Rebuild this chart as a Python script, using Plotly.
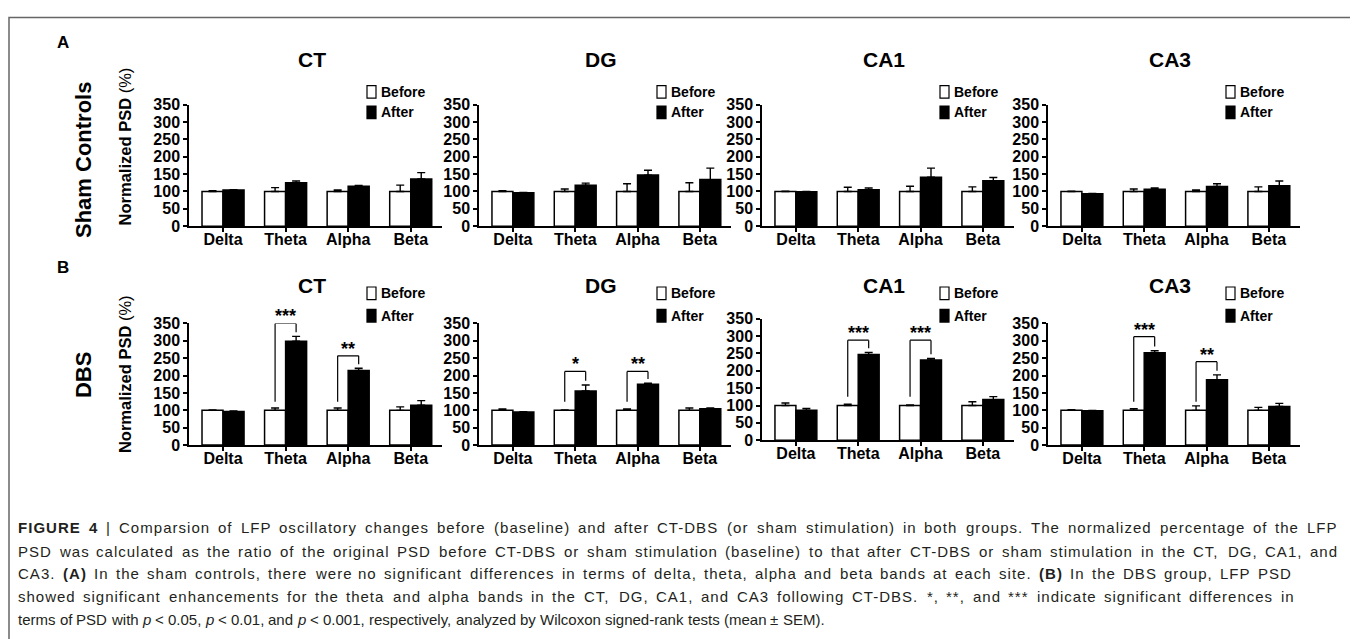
import plotly.graph_objects as go

# ---------------- data ----------------
bands = ["Delta", "Theta", "Alpha", "Beta"]
regions = ["CT", "DG", "CA1", "CA3"]

sham_before = {"CT": [100, 100, 100, 100], "DG": [100, 100, 100, 100],
               "CA1": [100, 100, 100, 100], "CA3": [100, 100, 100, 100]}
sham_before_sem = {"CT": [2, 11, 4, 18], "DG": [2, 7, 22, 25],
                   "CA1": [1, 12, 15, 13], "CA3": [1, 7, 4, 13]}
sham_after = {"CT": [104, 125, 115, 136], "DG": [96, 118, 147, 134],
              "CA1": [99, 105, 141, 131], "CA3": [93, 106, 114, 116]}
sham_after_sem = {"CT": [1, 5, 2, 18], "DG": [1, 6, 14, 33],
                  "CA1": [1, 5, 26, 9], "CA3": [1, 4, 8, 14]}

dbs_before = {"CT": [100, 100, 100, 100], "DG": [100, 100, 100, 100],
              "CA1": [100, 100, 100, 100], "CA3": [100, 100, 100, 100]}
dbs_before_sem = {"CT": [1, 7, 7, 10], "DG": [4, 1, 4, 7],
                  "CA1": [7, 4, 1.5, 11], "CA3": [2, 4.5, 13, 8.5]}
dbs_after = {"CT": [97, 299, 215, 115], "DG": [95, 156, 175, 105],
             "CA1": [86, 247, 231, 117], "CA3": [99, 266, 188, 111]}
dbs_after_sem = {"CT": [1, 14, 6, 13], "DG": [1, 17, 3, 2],
                 "CA1": [5.5, 6, 4.5, 8.5], "CA3": [1, 5.5, 14, 9]}

# significance: (band index, label, bracket height)
dbs_sig = {"CT": [(1, "***", 350), (2, "**", 257)],
           "DG": [(1, "*", 212), (2, "**", 212)],
           "CA1": [(1, "***", 288), (2, "***", 288)],
           "CA3": [(1, "***", 312), (2, "**", 240)]}

caption_lines = [
    "**FIGURE** **4** | Comparsion of LFP oscillatory changes before (baseline) and after CT-DBS (or sham stimulation) in both groups. The normalized percentage of the LFP",
    "PSD was calculated as the ratio of the original PSD before CT-DBS or sham stimulation (baseline) to that after CT-DBS or sham stimulation in the CT, DG, CA1, and",
    "CA3. **(A)** In the sham controls, there were no significant differences in terms of delta, theta, alpha and beta bands at each site. **(B)** In the DBS group, LFP PSD",
    "showed significant enhancements for the theta and alpha bands in the CT, DG, CA1, and CA3 following CT-DBS. *, **, and *** indicate significant differences in",
    "terms of PSD with _p_ < 0.05, _p_ < 0.01, and _p_ < 0.001, respectively, analyzed by Wilcoxon signed-rank tests (mean ± SEM).",
]

# ---------------- layout helpers ----------------
OFF = 8                      # page body margin of the html page
W, H = 1358 - OFF, 639 - OFF  # figure reaches the right / bottom window edge
F = "Liberation Sans, Arial, Helvetica, sans-serif"


def X(px):
    return (px - OFF) / W


def Y(py):
    return 1 - (py - OFF) / H


x_doms = [(189, 442), (479, 731), (762, 1014), (1048, 1300)]
y_doms = [[(224, 99)] * 4, [(449, 324), (449, 324), (444, 319), (449, 324)]]
title_y = [53, 285]
legend_y = [(86, 107), (293, 316)]
HALF = 0.336

# does this plotly accept a negative tick-label standoff?
try:
    go.layout.XAxis(ticklabelstandoff=-6)
    XSTAND = {"ticklabelstandoff": -6}
except Exception:
    XSTAND = {}

fig = go.Figure()
layout = dict(width=W, height=H, margin=dict(l=0, r=0, t=0, b=0),
              paper_bgcolor="white", plot_bgcolor="white", barmode="overlay",
              showlegend=False, font=dict(family=F, color="black"))
annotations = []
shapes = []

groups = [(sham_before, sham_before_sem, sham_after, sham_after_sem, None),
          (dbs_before, dbs_before_sem, dbs_after, dbs_after_sem, dbs_sig)]

for r, (bm, bs, am, asem, sig) in enumerate(groups):
    for c, reg in enumerate(regions):
        n = r * 4 + c + 1
        sfx = "" if n == 1 else str(n)
        xa, ya = "x" + sfx, "y" + sfx
        pos = list(range(len(bands)))
        fig.add_bar(x=pos, y=bm[reg], xaxis=xa, yaxis=ya, offset=-HALF, width=HALF,
                    name="Before",
                    marker=dict(color="white", line=dict(color="black", width=1.5)),
                    error_y=dict(type="data", array=bs[reg], arrayminus=[0] * 4,
                                 symmetric=False, color="black", thickness=1.4, width=4))
        fig.add_bar(x=pos, y=am[reg], xaxis=xa, yaxis=ya, offset=0, width=HALF,
                    name="After",
                    marker=dict(color="black", line=dict(color="black", width=1.5)),
                    error_y=dict(type="data", array=asem[reg], arrayminus=[0] * 4,
                                 symmetric=False, color="black", thickness=1.4, width=4))
        x0, x1 = x_doms[c]
        yb, yt = y_doms[r][c]
        xax = dict(
            domain=[X(x0), X(x1)], anchor=ya, range=[-0.544, 3.5],
            tickvals=pos, ticktext=bands, showline=True, linecolor="black", linewidth=1.5,
            ticks="outside", ticklen=4, tickwidth=1.5, tickcolor="black",
            tickfont=dict(family=F, size=16, color="black", weight="bold"),
            showgrid=False, zeroline=False, fixedrange=True)
        xax.update(XSTAND)
        layout["xaxis" + sfx] = xax
        layout["yaxis" + sfx] = dict(
            domain=[Y(yb), Y(yt)], anchor=xa, range=[0, 350], tick0=0, dtick=50,
            showline=True, linecolor="black", linewidth=1.5,
            ticks="outside", ticklen=4, tickwidth=1.5, tickcolor="black",
            tickfont=dict(family=F, size=16, color="black", weight="bold"),
            showgrid=False, zeroline=False, fixedrange=True)
        # panel title
        annotations.append(dict(text="<b>%s</b>" % reg, x=X((x0 + x1) / 2 - 4), y=Y(title_y[r]),
                                xref="paper", yref="paper", showarrow=False,
                                xanchor="center", yanchor="middle",
                                font=dict(family=F, size=21, color="black")))
        # legend
        for k, (lab, col) in enumerate([("Before", "white"), ("After", "black")]):
            ly = legend_y[r][k]
            shapes.append(dict(type="rect", xref="paper", yref="paper",
                               x0=X(x0 + 178), x1=X(x0 + 187), y0=Y(ly + 6.5), y1=Y(ly - 6.5),
                               fillcolor=col, line=dict(color="black", width=1.2)))
            annotations.append(dict(text="<b>%s</b>" % lab, x=X(x0 + 191), y=Y(ly),
                                    xref="paper", yref="paper", showarrow=False,
                                    xanchor="left", yanchor="middle", borderpad=0,
                                    font=dict(family=F, size=14, color="black")))
        # significance brackets
        if sig:
            for (bi, lab, top) in sig[reg]:
                xl, xr = bi - HALF / 2, bi + HALF / 2
                left_bottom = 125
                right_bottom = am[reg][bi] + asem[reg][bi] + 12
                for (a0, b0, a1, b1) in [(xl, left_bottom, xl, top), (xl, top, xr, top),
                                         (xr, top, xr, right_bottom)]:
                    shapes.append(dict(type="line", xref=xa, yref=ya, x0=a0, y0=b0, x1=a1, y1=b1,
                                       line=dict(color="black", width=1.2)))
                annotations.append(dict(text="<b>%s</b>" % lab, x=bi, y=top, xref=xa, yref=ya,
                                        showarrow=False, xanchor="center", yanchor="bottom",
                                        yshift=-5, font=dict(family=F, size=18, color="black")))

# row / side labels
for t, px, py in [("A", 63, 35), ("B", 63, 266)]:
    annotations.append(dict(text="<b>%s</b>" % t, x=X(px), y=Y(py), xref="paper", yref="paper",
                            showarrow=False, xanchor="center", yanchor="middle",
                            font=dict(family=F, size=17, color="black")))
for t, py in [("Sham Controls", 156), ("DBS", 377)]:
    annotations.append(dict(text="<b>%s</b>" % t, x=X(83), y=Y(py), xref="paper", yref="paper",
                            showarrow=False, textangle=-90, xanchor="center", yanchor="middle",
                            font=dict(family=F, size=22, color="black")))
for py in [142, 376]:
    annotations.append(dict(text="<b>Normalized PSD</b> (%)", x=X(125), y=Y(py), xref="paper",
                            yref="paper", showarrow=False, textangle=-90, xanchor="center",
                            yanchor="middle", font=dict(family=F, size=16.5, color="black")))

# ---------------- caption (justified, word by word) ----------------
AR = {' ': 278, '(': 333, ')': 333, '*': 389, ',': 278, '-': 333, '.': 278, '<': 584, '|': 260,
      '±': 584, 'A': 667, 'B': 667, 'C': 722, 'D': 722, 'E': 667, 'F': 611, 'G': 778, 'H': 722,
      'I': 278, 'J': 500, 'K': 667, 'L': 556, 'M': 833, 'N': 722, 'O': 778, 'P': 667, 'Q': 778,
      'R': 722, 'S': 667, 'T': 611, 'U': 722, 'V': 667, 'W': 944, 'X': 667, 'Y': 667, 'Z': 611,
      'a': 556, 'b': 556, 'c': 500, 'd': 556, 'e': 556, 'f': 278, 'g': 556, 'h': 556, 'i': 222,
      'j': 222, 'k': 500, 'l': 222, 'm': 833, 'n': 556, 'o': 556, 'p': 556, 'q': 556, 'r': 333,
      's': 500, 't': 278, 'u': 556, 'v': 500, 'w': 722, 'x': 500, 'y': 500, 'z': 500}
for d in "0123456789":
    AR[d] = 556
AB = dict(AR)
AB.update({'A': 722, 'B': 722, 'F': 611, 'I': 278, 'G': 778, 'U': 722, 'R': 722, 'E': 667})

CAP_SIZE = 15
cap_x0 = 18
cap_right = [1338, 1338, 1292, 1295, None]
cap_y = [534, 558, 581, 605, 628]


def word_info(w):
    if w.startswith("**") and w.endswith("**") and len(w) > 4:
        core = w[2:-2]
        return core, "<b>%s</b>", sum(AB.get(ch, 556) for ch in core)
    if w.startswith("_") and w.endswith("_") and len(w) > 2:
        core = w[1:-1]
        return core, "<i>%s</i>", sum(AR.get(ch, 556) for ch in core)
    return w, "%s", sum(AR.get(ch, 556) for ch in w)


for li, line in enumerate(caption_lines):
    words = line.split(" ")
    infos = [word_info(w) for w in words]
    widths = [wd * CAP_SIZE / 1000 for _, _, wd in infos]
    nchar = sum(len(core) for core, _, _ in infos)
    space = AR[' '] * CAP_SIZE / 1000
    ngap = len(words) - 1
    natural = sum(widths) + ngap * space
    ls, gap = 0.0, space
    if cap_right[li] is not None and ngap > 0:
        extra = cap_right[li] - cap_x0 - natural
        ls = 0.6 * extra / nchar
        gap = space + 0.4 * extra / ngap
    cur = cap_x0
    for (core, tmpl, _), wpx in zip(infos, widths):
        inner = tmpl % core.replace("<", "&lt;")
        html = '<span style="letter-spacing:%.2fpx">%s</span>' % (ls, inner) if ls else inner
        annotations.append(dict(text=html, x=X(cur), y=Y(cap_y[li]), xref="paper", yref="paper",
                                showarrow=False, xanchor="left", yanchor="middle",
                                borderpad=0, borderwidth=0,
                                font=dict(family=F, size=CAP_SIZE, color="#231f20")))
        cur += wpx + ls * len(core) + gap

# outer frame (its bottom edge lies below the window, as in the reference)
shapes.append(dict(type="rect", xref="paper", yref="paper", x0=X(9), x1=X(1355), y0=Y(660),
                   y1=Y(9.5), line=dict(color="#666666", width=1.5),
                   fillcolor="rgba(0,0,0,0)", layer="below"))

layout["annotations"] = annotations
layout["shapes"] = shapes
fig.update_layout(**layout)
fig.write_html("out.html", config={"displayModeBar": False})
